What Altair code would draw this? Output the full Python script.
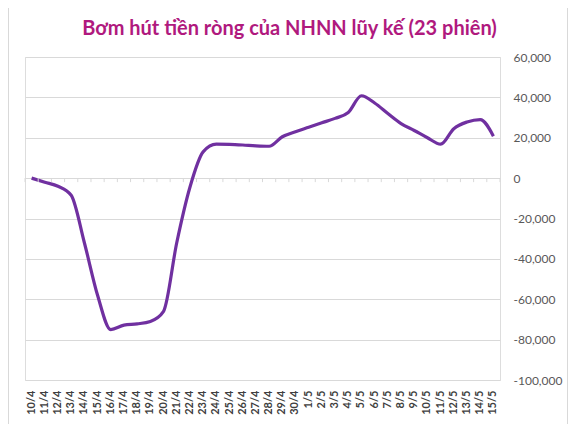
import altair as alt
import pandas as pd

labels = ["10/4", "11/4", "12/4", "13/4", "14/4", "15/4", "16/4", "17/4", "18/4",
          "19/4", "20/4", "21/4", "22/4", "23/4", "24/4", "25/4", "26/4", "27/4",
          "28/4", "29/4", "30/4", "1/5", "2/5", "3/5", "4/5", "5/5", "6/5", "7/5",
          "8/5", "9/5", "10/5", "11/5", "12/5", "13/5", "14/5", "15/5"]
values = [0, -2000, -4000, -8500, -32000, -58000, -75000, -72800, -72200,
          -71000, -66000, -32000, -4500, 13000, 16800, 16700, 16400, 16000,
          15800, 20500, 23000, 25200, 27400, 29600, 32500, 40800, 37200, 32000,
          27000, 23600, 20000, 16800, 24500, 27800, 29000, 20800]
y_ticks = [60000, 40000, 20000, 0, -20000, -40000, -60000, -80000, -100000]

TITLE = "Bơm hút tiền ròng của NHNN lũy kế (23 phiên)"
FONT = "Lato"

df = pd.DataFrame({"day": labels, "value": values})

x_scale = alt.Scale(domain=labels, paddingInner=0, paddingOuter=0)
y_scale = alt.Scale(domain=[-100000, 60000], nice=False, zero=False)

y_axis = alt.Axis(
    orient="right", values=y_ticks, domain=False, ticks=False, tickSize=0,
    labelPadding=13, labelColor="#595959", labelFontSize=12, labelFont=FONT,
    grid=True, gridColor="#D9D9D9", gridWidth=1, title=None,
    labelExpr="datum.value < 0 ? '-' + format(-datum.value, ',') : format(datum.value, ',')",
)
x_axis = alt.Axis(
    labelAngle=-90, labelPadding=10, domain=False, ticks=False, grid=False,
    labelColor="#404040", labelFontSize=11, labelFontWeight="bold", labelFont=FONT,
    title=None,
)

base = alt.Chart(df)

line = base.mark_line(color="#7030A0", strokeWidth=3.2, interpolate="monotone").encode(
    x=alt.X("day:N", scale=x_scale, axis=x_axis, sort=labels),
    y=alt.Y("value:Q", scale=y_scale, axis=y_axis),
)

ticks = base.mark_rule(color="#D9D9D9", strokeWidth=1, y2Offset=4).encode(
    x=alt.X("day:N", scale=x_scale, axis=x_axis, sort=labels, bandPosition=0),
    y=alt.Y(datum=0, scale=y_scale, axis=y_axis),
    y2=alt.datum(0),
)
last_tick = alt.Chart(df.tail(1)).mark_rule(color="#D9D9D9", strokeWidth=1, y2Offset=4).encode(
    x=alt.X("day:N", scale=x_scale, axis=x_axis, sort=labels, bandPosition=1),
    y=alt.Y(datum=0, scale=y_scale, axis=y_axis),
    y2=alt.datum(0),
)

# chart-area frame (left and right edges)
frame_left = base.mark_rule(color="#D9D9D9", strokeWidth=1).encode(
    x=alt.value(-16.5), y=alt.value(-49), y2=alt.value(367)
)
frame_right = base.mark_rule(color="#D9D9D9", strokeWidth=1).encode(
    x=alt.value(542.5), y=alt.value(-49), y2=alt.value(367)
)

chart = alt.layer(frame_left, frame_right, line, ticks, last_tick).properties(
    width=475,
    height=323,
    title=alt.TitleParams(
        TITLE, font=FONT, fontSize=20, fontWeight="bold", color="#B0197E",
        anchor="middle", dx=27, offset=-31,
    ),
    autosize=alt.AutoSizeParams(type="none"),
    padding={"left": 17, "top": 49, "right": 68, "bottom": 44},
).configure_view(stroke="transparent", strokeWidth=0).configure(background="white")

chart.save("out.html", embed_options={"renderer": "svg", "actions": False})
